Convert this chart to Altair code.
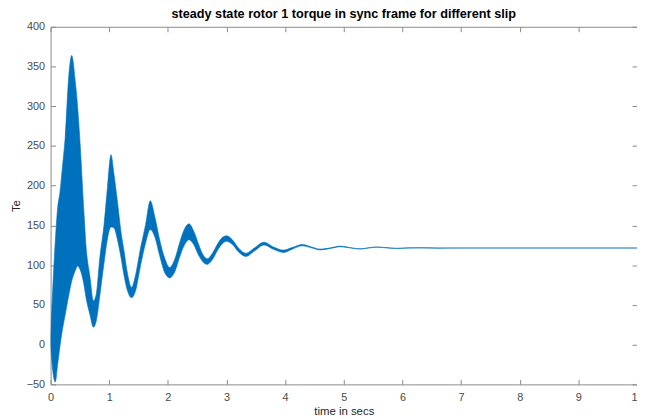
import altair as alt
import pandas as pd

# time (s) and the lower / upper edge of the dense Te trace
t_vals = [0, 0.03, 0.08, 0.12, 0.16, 0.20, 0.25, 0.31, 0.36, 0.42, 0.46, 0.50,
          0.57, 0.60, 0.67, 0.73, 0.78, 0.84, 0.91, 0.97, 1.03, 1.08, 1.14, 1.20,
          1.25, 1.31, 1.38, 1.45, 1.53, 1.62, 1.70, 1.78, 1.86, 1.95, 2.03, 2.12,
          2.20, 2.28, 2.36, 2.44, 2.52, 2.60, 2.67, 2.76, 2.85, 2.93, 3.00, 3.10,
          3.20, 3.33, 3.48, 3.64, 3.80, 3.97, 4.13, 4.29, 4.46, 4.60, 4.77, 4.94,
          5.10, 5.28, 5.42, 5.56, 5.72, 5.90, 6.10, 6.30, 6.60, 7.0, 8.0, 9.0, 10.0]
te_lower = [0, -28, -47, -25, -2, 18, 38, 62, 80, 93, 99, 95,
            75, 61, 38, 22, 30, 62, 102, 133, 148, 147, 132, 110,
            88, 68, 59, 68, 98, 128, 145, 135, 112, 90, 84, 92,
            110, 125, 132, 126, 113, 104, 101, 107, 119, 127, 130, 126,
            117, 111, 118, 125.5, 120, 116, 120.5, 124.3, 121.5, 119.2, 121, 123.2,
            121.8, 120.2, 121.5, 122.6, 121.8, 121, 121.5, 121.7, 121.4, 121.5, 121.5, 121.5, 121.5]
te_upper = [8, 60, 130, 172, 192, 222, 262, 338, 364, 332, 300, 257,
            165, 128, 86, 55, 64, 110, 150, 198, 239, 215, 180, 142,
            119, 90, 72, 88, 120, 151, 181, 160, 132, 108, 97, 108,
            128, 145, 152, 143, 127, 113, 108, 115, 127, 135, 137, 132,
            122, 115, 122, 129, 123, 119, 122.5, 126, 122.7, 120.2, 121.8, 124,
            122.3, 120.6, 121.9, 123, 122.1, 121.3, 121.8, 121.9, 121.7, 121.7, 121.7, 121.7, 121.7]

x_ticks = [0, 1, 2, 3, 4, 5, 6, 7, 8, 9, 10]
y_ticks = [-50, 0, 50, 100, 150, 200, 250, 300, 350, 400]

df = pd.DataFrame({"t": t_vals, "lower": te_lower, "upper": te_upper})

W, H = 592, 361
AX = "#8a8a8a"
LB = "#4a4a4a"
FONT = "Liberation Sans"
xs = alt.Scale(domain=[0, 10], nice=False, zero=False)
ys = alt.Scale(domain=[-50, 400], nice=False, zero=False)

main = alt.Chart(df).mark_area(
    color="#0072BD", stroke="#0072BD", strokeWidth=0.6, interpolate="monotone", clip=True
).encode(
    x=alt.X("t:Q", scale=xs, axis=alt.Axis(
        orient="bottom", values=x_ticks, title="time in secs", tickSize=0, domain=False,
        grid=False, labelPadding=7, titlePadding=3, labelFontSize=11, titleFontSize=11.5,
        labelColor=LB, titleColor="#262626", titleFontWeight="normal", labelFont=FONT,
        titleFont=FONT, labelFlush=False, labelOverlap=False)),
    y=alt.Y("lower:Q", scale=ys, axis=alt.Axis(
        orient="left", values=y_ticks, title="Te", tickSize=0, domain=False,
        grid=False, labelPadding=6, titlePadding=5, labelFontSize=11, titleFontSize=11.5,
        labelColor=LB, titleColor="#262626", titleFontWeight="normal", labelFont=FONT,
        titleFont=FONT, labelOverlap=False)),
    y2="upper:Q",
)

ticks_a = alt.Chart(df).mark_point(opacity=0).encode(
    x=alt.X("t:Q", scale=xs, axis=alt.Axis(
        orient="top", offset=-H, values=x_ticks, labels=False, domain=False, grid=False,
        title=None, tickSize=5, tickColor=AX)),
    y=alt.Y("lower:Q", scale=ys, axis=alt.Axis(
        orient="right", offset=-W, values=y_ticks, labels=False, domain=False, grid=False,
        title=None, tickSize=5, tickColor=AX)),
)

ticks_b = alt.Chart(df).mark_point(opacity=0).encode(
    x=alt.X("t:Q", scale=xs, axis=alt.Axis(
        orient="bottom", offset=-H, values=x_ticks, labels=False, domain=False, grid=False,
        title=None, tickSize=5, tickColor=AX)),
    y=alt.Y("lower:Q", scale=ys, axis=alt.Axis(
        orient="left", offset=-W, values=y_ticks, labels=False, domain=False, grid=False,
        title=None, tickSize=5, tickColor=AX)),
)

chart = alt.layer(main, ticks_a, ticks_b).resolve_axis(
    x="independent", y="independent"
).properties(
    width=W,
    height=H,
    padding={"left": 43, "top": 17, "right": 0, "bottom": 33},
    autosize=alt.AutoSizeParams(type="none"),
    title=alt.TitleParams(
        "steady state rotor 1 torque in sync frame for different slip",
        fontSize=12.8, fontWeight="bold", font=FONT, color="#000000",
        anchor="middle", offset=0, frame="group"),
).configure_view(stroke=AX, strokeWidth=1)

chart.save("out.html", embed_options={"renderer": "svg", "actions": False})
